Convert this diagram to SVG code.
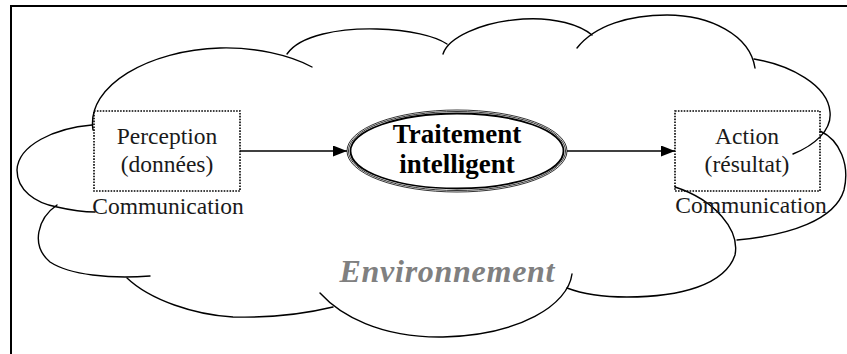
<svg xmlns="http://www.w3.org/2000/svg" width="847" height="354" viewBox="0 0 847 354">
  <style>
    .frame { fill: none; stroke: #000; stroke-width: 2; }
    .cloud { fill: none; stroke: #000; stroke-width: 1.4; stroke-linecap: round; }
    .box { fill: none; stroke: #000; stroke-width: 1.6; stroke-dasharray: 1.6 1.3; }
    .label { font-family: "Liberation Serif", "Times New Roman", serif; font-size: 23.5px; fill: #1a1a1a; text-anchor: middle; }
    .core { font-family: "Liberation Serif", "Times New Roman", serif; font-size: 27px; font-weight: bold; fill: #000; text-anchor: middle; }
    .env { font-family: "Liberation Serif", "Times New Roman", serif; font-size: 32px; font-weight: bold; font-style: italic; fill: #808080; text-anchor: middle; }
    .link { fill: none; stroke: #000; stroke-width: 1.4; }
    .ring { fill: none; stroke: #000; }
  </style>
  <defs>
    <marker id="arrow" viewBox="0 0 14 11" refX="14" refY="5.5" markerWidth="14" markerHeight="11" markerUnits="userSpaceOnUse" orient="auto">
      <path d="M0,0 L14,5.5 L0,11 Z" fill="#000"/>
    </marker>
  </defs>

  <rect width="847" height="354" fill="#fff"/>

  <!-- page frame (top and left rules) -->
  <path class="frame" d="M11,354 V6 H847"/>

  <!-- environment cloud, drawn as overlapping lobes -->
  <g id="environment">
    <path class="cloud" d="M93,130 C86,85 150,50 220,48 C255,47 290,55 312,67"/>
    <path class="cloud" d="M287,54 C300,35 340,28 377,29 C410,30 435,36 447,44"/>
    <path class="cloud" d="M443,54 C448,38 480,22 523,19 C555,17 580,25 592,35"/>
    <path class="cloud" d="M577,48 C595,25 630,15 667,15 C710,15 750,35 755,68"/>
    <path class="cloud" d="M754,59 C790,65 828,85 830,112 C832,130 815,145 793,154"/>
    <path class="cloud" d="M820,131 C840,140 850,165 844,190 C835,220 790,235 737,240"/>
    <path class="cloud" d="M675,187 C715,200 740,230 735,255 C725,285 680,297 627,297 C600,297 580,293 567,288"/>
    <path class="cloud" d="M572,274 C568,305 520,335 443,337 C380,338 340,315 320,293"/>
    <path class="cloud" d="M333,307 C300,315 270,318 233,317 C195,315 150,300 127,278"/>
    <path class="cloud" d="M57,205 C38,218 30,245 50,262 C70,275 110,279 150,276"/>
    <path class="cloud" d="M92,125 C55,128 18,145 17,170 C17,190 35,203 57,207 C70,210 82,212 95,212"/>
    <text class="env" x="447" y="282" textLength="215" lengthAdjust="spacing">Environnement</text>
  </g>

  <!-- connectors -->
  <g id="connectors">
    <line class="link" x1="240" y1="151" x2="347" y2="151" marker-end="url(#arrow)"/>
    <line class="link" x1="567" y1="151" x2="675" y2="151" marker-end="url(#arrow)"/>
  </g>

  <g id="perception">
    <rect class="box" x="94" y="111" width="146" height="80"/>
    <text class="label" x="167" y="144">Perception</text>
    <text class="label" x="167" y="172">(données)</text>
    <text class="label" x="168" y="214">Communication</text>
  </g>

  <g id="traitement">
    <ellipse class="ring" cx="457" cy="151" rx="110" ry="41" stroke-width="0.8"/>
    <ellipse class="ring" cx="457" cy="151" rx="108.5" ry="39.5" stroke-width="0.8"/>
    <ellipse class="ring" cx="457" cy="151" rx="106.5" ry="37.5" stroke-width="1.8"/>
    <text class="core" x="457" y="143">Traitement</text>
    <text class="core" x="457" y="173">intelligent</text>
  </g>

  <g id="action">
    <rect class="box" x="675" y="111" width="145" height="80"/>
    <text class="label" x="747" y="144">Action</text>
    <text class="label" x="747" y="172">(résultat)</text>
    <text class="label" x="751" y="213">Communication</text>
  </g>
</svg>
